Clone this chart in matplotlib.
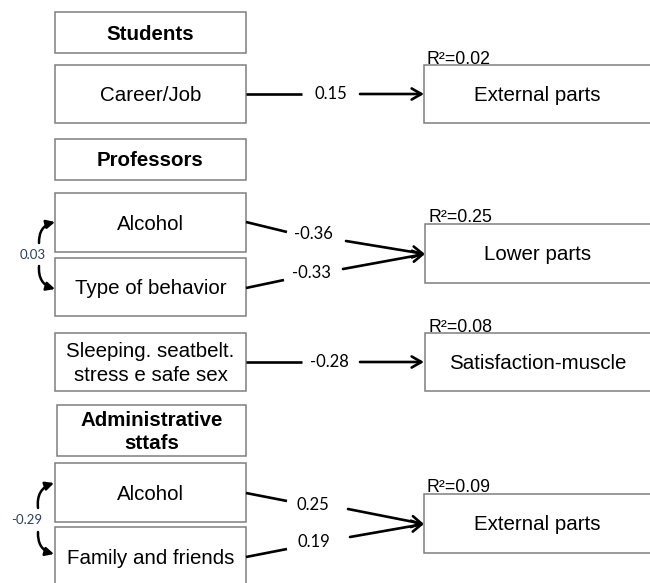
import matplotlib
matplotlib.use("Agg")
import matplotlib.pyplot as plt
from matplotlib.patches import Rectangle, FancyArrowPatch

# ---- data ----
group_titles = ["Students", "Professors", "Administrative\nsttafs"]
predictors = ["Career/Job", "Alcohol", "Type of behavior",
              "Sleeping. seatbelt.\nstress e safe sex", "Alcohol", "Family and friends"]
outcomes = ["External parts", "Lower parts", "Satisfaction-muscle", "External parts"]
r2_values = [0.02, 0.25, 0.08, 0.09]
path_coefs = [0.15, -0.36, -0.33, -0.28, 0.25, 0.19]
covariances = [0.03, -0.29]

# ---- layout (pixel space) ----
W, H = 650, 583
fig = plt.figure(figsize=(W / 100, H / 100), dpi=100)
ax = fig.add_axes([0, 0, 1, 1])
ax.set_xlim(0, W)
ax.set_ylim(H, 0)
ax.axis("off")

EDGE = "#7f7f7f"
BOXFONT = "Liberation Sans"
NUMFONT = "Lato"


def box(x0, y0, x1, y1, text, bold=False, size=14.8, ty=None):
    ax.add_patch(Rectangle((x0, y0), x1 - x0, y1 - y0, facecolor="white",
                           edgecolor=EDGE, lw=1.1))
    if ty is None:
        ty = (y0 + y1) / 2 + 1.5
    ax.text((x0 + x1) / 2, ty, text, ha="center", va="center",
            fontsize=size, family=BOXFONT, fontweight="bold" if bold else "normal",
            linespacing=1.3, color="black")


# group title boxes
title_boxes = [(55, 12, 246, 53), (55, 139, 246, 180), (57, 405, 246, 456)]
for (x0, y0, x1, y1), t in zip(title_boxes, group_titles):
    box(x0, y0, x1, y1, t, bold=True)

# predictor boxes
pred_boxes = [(55, 65, 246, 123), (55, 193, 246, 252), (55, 258, 246, 316),
              (55, 333, 246, 391), (55, 463, 246, 522), (55, 527, 246, 600)]
for (x0, y0, x1, y1), t in zip(pred_boxes, predictors):
    ty = 558 if y1 > H else None
    box(x0, y0, x1, y1, t, ty=ty)

# outcome boxes
out_boxes = [(424, 65, 651, 123), (425, 224, 651, 283), (425, 333, 651, 391), (424, 494, 651, 553)]
for (x0, y0, x1, y1), t, r2 in zip(out_boxes, outcomes, r2_values):
    box(x0, y0, x1, y1, t)
    ax.text(x0 + 3, y0 - 1.5, "R\u00b2=" + f"{r2:.2f}", ha="left", va="baseline",
            fontsize=12.8, family=BOXFONT, zorder=5)

# path arrows: (start, gap start, label pos, gap end, end)
paths = [
    ((246, 94), (302, 94), (331, 94), (360, 94), (424, 94)),
    ((246, 222), (287, 232), (313, 234), (346, 241), (425, 254)),
    ((246, 288), (284, 280), (311, 273), (343, 269), (425, 254)),
    ((246, 362), (302, 362), (329, 362), (360, 362), (424, 362)),
    ((246, 493), (287, 501), (313, 505), (348, 509), (424, 524)),
    ((246, 557), (287, 549), (314, 542), (350, 537), (424, 524)),
]
for (s, g0, lab, g1, e), c in zip(paths, path_coefs):
    ax.plot([s[0], g0[0]], [s[1], g0[1]], color="black", lw=1.9, solid_capstyle="butt")
    ax.add_patch(FancyArrowPatch(g1, e, arrowstyle="->,head_length=7,head_width=4",
                                 color="black", lw=1.9, mutation_scale=1,
                                 shrinkA=0, shrinkB=0))
    ax.text(lab[0], lab[1], f"{c:.2f}", ha="center", va="center",
            fontsize=12, family=NUMFONT, color="black")

# covariance curved arrows
cov_geo = [
    ((33, 255), (39, 243), (55, 222), (39, 266), (55, 289)),
    ((27, 520), (38, 508), (54, 483), (38, 532), (54, 554)),
]
for (lab, a0, a1, b0, b1), c in zip(cov_geo, covariances):
    ax.add_patch(FancyArrowPatch(a0, a1, connectionstyle="arc3,rad=-0.4",
                                 arrowstyle="-|>,head_length=5,head_width=2.5",
                                 color="black", lw=1.8, mutation_scale=1,
                                 shrinkA=0, shrinkB=0))
    ax.add_patch(FancyArrowPatch(b0, b1, connectionstyle="arc3,rad=0.4",
                                 arrowstyle="-|>,head_length=5,head_width=2.5",
                                 color="black", lw=1.8, mutation_scale=1,
                                 shrinkA=0, shrinkB=0))
    ax.text(lab[0], lab[1], f"{c:.2f}", ha="center", va="center",
            fontsize=9.5, family=NUMFONT, color="#2b3f5c")

fig.savefig("out.png", dpi=100)
